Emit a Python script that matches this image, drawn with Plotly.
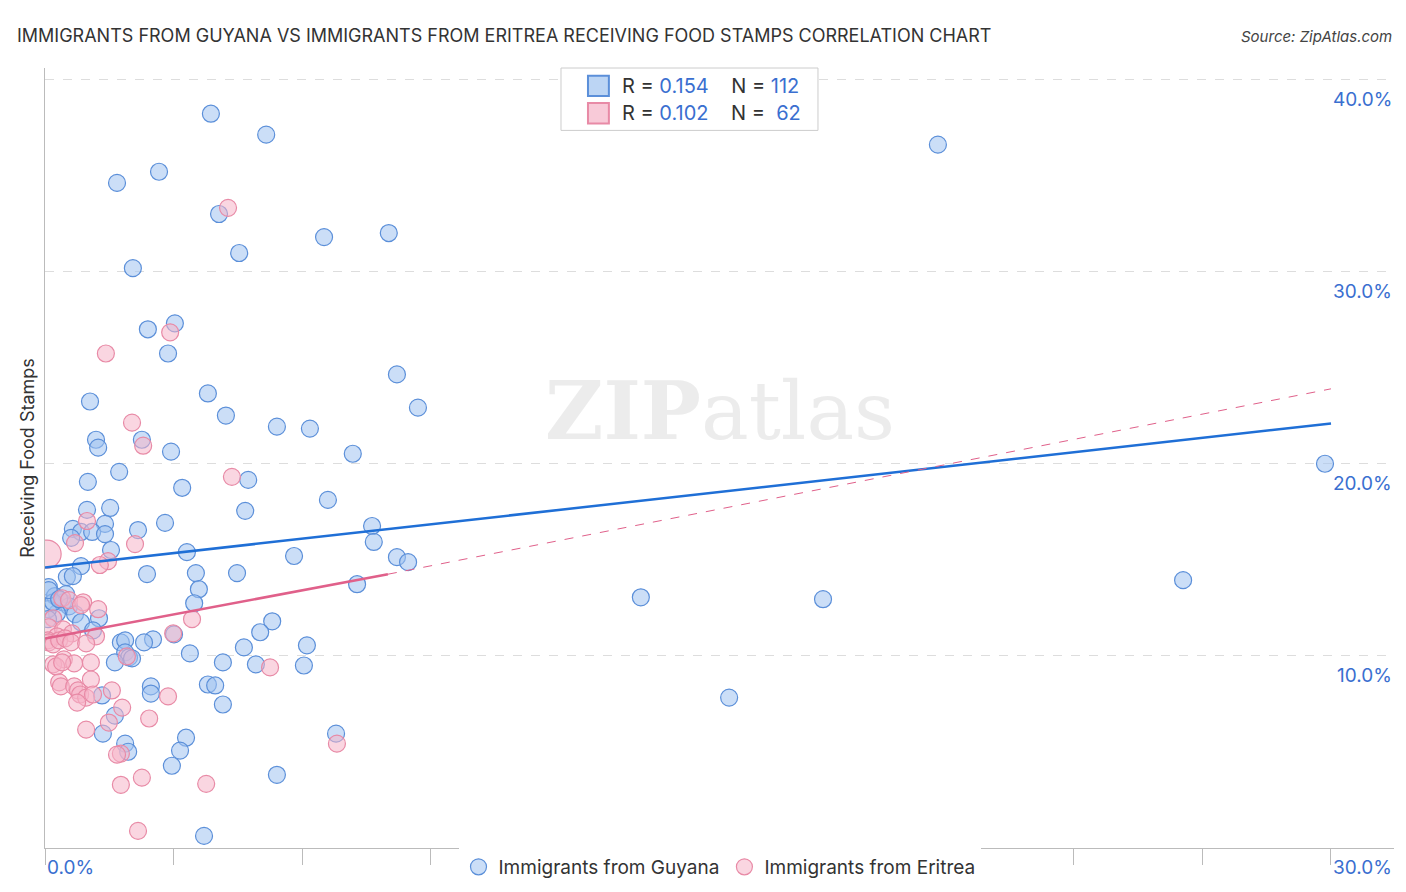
import plotly.graph_objects as go

def cx(p): return round((p-44)/42.87, 2)
def cy(p): return round((845-p)/19.15, 2)

blue_px = [(210,113),(265,134),(116,182),(158,171),(218,213),(238,252),(132,267),(323,236),(388,232),(937,144),(147,328),(174,322),(167,352),(396,373),(89,400),(207,392),(225,414),(417,406),(276,425),(309,427),(95,438),(97,446),(141,438),(170,450),(352,452),(118,470),(87,480),(181,486),(247,478),(327,498),(86,508),(244,509),(109,506),(72,527),(80,530),(104,522),(164,521),(137,528),(371,524),(373,540),(70,536),(91,530),(104,532),(110,548),(186,550),(293,554),(396,555),(407,560),(80,564),(66,575),(72,574),(146,572),(195,571),(236,571),(356,582),(198,587),(48,585),(54,594),(58,597),(62,600),(65,592),(68,604),(74,612),(56,611),(47,607),(80,620),(98,616),(92,628),(193,601),(271,619),(640,595),(822,597),(1182,578),(1324,462),(259,630),(47,617),(52,600),(120,640),(124,638),(152,637),(143,640),(173,632),(243,645),(306,643),(124,650),(128,655),(114,660),(131,656),(189,651),(222,660),(255,662),(303,663),(150,684),(150,691),(207,682),(214,683),(101,693),(222,702),(114,713),(728,695),(335,731),(102,731),(185,735),(124,741),(127,749),(179,748),(171,763),(276,772),(203,833),(48,588),(58,597)]
pink_px = [(227,207),(105,352),(169,331),(131,421),(142,444),(231,475),(86,519),(74,541),(134,542),(107,559),(99,563),(61,596),(68,598),(82,600),(97,607),(80,603),(191,617),(52,616),(48,625),(62,627),(71,631),(95,634),(172,631),(56,634),(47,638),(126,654),(63,657),(73,661),(90,660),(52,662),(55,664),(61,660),(269,665),(58,680),(60,684),(73,684),(90,677),(77,688),(79,692),(85,695),(111,688),(92,692),(76,700),(167,694),(121,705),(148,716),(108,720),(85,727),(120,751),(116,752),(141,775),(120,782),(205,781),(336,741),(137,828),(48,640),(52,642),(58,638),(64,636),(70,640),(85,641)]

guyana_x = [cx(a) for a,b in blue_px]
guyana_y = [cy(b) for a,b in blue_px]
eritrea_x = [cx(a) for a,b in pink_px]
eritrea_y = [cy(b) for a,b in pink_px]
big_x, big_y = [0.05], [15.3]

fig = go.Figure()
fig.add_trace(go.Scatter(x=guyana_x, y=guyana_y, mode="markers", name="Immigrants from Guyana",
    marker=dict(size=17, color="rgba(160,195,240,0.55)", line=dict(color="#5b8fd9", width=1.2))))
fig.add_trace(go.Scatter(x=eritrea_x, y=eritrea_y, mode="markers", name="Immigrants from Eritrea",
    marker=dict(size=17, color="rgba(245,180,200,0.55)", line=dict(color="#e88aa6", width=1.2))))
fig.add_trace(go.Scatter(x=big_x, y=big_y, mode="markers", showlegend=False,
    marker=dict(size=28, color="rgba(245,180,200,0.55)", line=dict(color="#e88aa6", width=1.2))))
fig.add_trace(go.Scatter(x=[0,30], y=[14.6,22.1], mode="lines", showlegend=False, line=dict(color="#1f6fd6", width=2.5)))
fig.add_trace(go.Scatter(x=[8,30], y=[14.25,23.9], mode="lines", showlegend=False, line=dict(color="#e0608a", width=1, dash="dash")))
fig.add_trace(go.Scatter(x=[0,8], y=[10.9,14.25], mode="lines", showlegend=False, line=dict(color="#e0608a", width=2.5)))

ann = [dict(x=1, xref="paper", y=v, yref="y", text=f"{v:.1f}%", showarrow=False, xanchor="right", yanchor="top",
            yshift=-6, font=dict(color="#3a6fd0", size=19)) for v in [10,20,30,40]]
ann += [dict(x=0, xref="paper", y=-0.008, yref="paper", text="0.0%", showarrow=False, xanchor="left", yanchor="top", font=dict(color="#3a6fd0", size=19)),
        dict(x=1, xref="paper", y=-0.008, yref="paper", text="30.0%", showarrow=False, xanchor="right", yanchor="top", font=dict(color="#3a6fd0", size=19)),
        dict(x=0.5, xref="paper", y=0.56, yref="paper", text="<b>ZIP</b>atlas", showarrow=False, font=dict(size=80, color="rgba(200,200,200,0.35)", family="DejaVu Serif")),
        dict(x=-0.022, xref="paper", xanchor="left", y=1.026, yref="paper", yanchor="bottom", text="IMMIGRANTS FROM GUYANA VS IMMIGRANTS FROM ERITREA RECEIVING FOOD STAMPS CORRELATION CHART", showarrow=False, font=dict(size=18, color="#333")),
        dict(x=1, xref="paper", xanchor="right", y=1.026, yref="paper", yanchor="bottom", text="<i>Source: ZipAtlas.com</i>", showarrow=False, font=dict(size=15, color="#444")),
        dict(x=0.426, xref="paper", y=0.977, yref="paper", xanchor="left", yanchor="middle", showarrow=False,
             text="<span style='color:#333'>R = </span><span style='color:#3a6fd0'>0.154</span><span style='color:#333'>    N = </span><span style='color:#3a6fd0'>112</span>", font=dict(size=20)),
        dict(x=0.426, xref="paper", y=0.942, yref="paper", xanchor="left", yanchor="middle", showarrow=False,
             text="<span style='color:#333'>R = </span><span style='color:#3a6fd0'>0.102</span><span style='color:#333'>    N =  </span><span style='color:#3a6fd0'>62</span>", font=dict(size=20))]

shapes = [dict(type="rect", xref="paper", yref="paper", x0=0.3825, x1=0.573, y0=0.92, y1=1.0, fillcolor="white", line=dict(color="#ccc", width=1)),
          dict(type="rect", xref="paper", yref="paper", x0=0.4025, x1=0.418, y0=0.964, y1=0.99, fillcolor="rgba(160,195,240,0.7)", line=dict(color="#5b8fd9")),
          dict(type="rect", xref="paper", yref="paper", x0=0.4025, x1=0.418, y0=0.929, y1=0.955, fillcolor="rgba(245,180,200,0.7)", line=dict(color="#e88aa6"))]

fig.update_layout(width=1406, height=892, plot_bgcolor="white", paper_bgcolor="white",
    margin=dict(l=37, r=20, t=60, b=52), font=dict(family="Inter, Roboto, sans-serif"),
    annotations=ann, shapes=shapes,
    legend=dict(orientation="h", x=0.5, xanchor="center", y=0.0, yanchor="top", font=dict(size=19, color="#333")),
    xaxis=dict(range=[0, 31.47], showgrid=False, showticklabels=False, ticks="outside", tickvals=[3*i for i in range(11)],
               ticklen=16, tickcolor="#bbb", showline=True, linecolor="#bbb", zeroline=False, automargin=False),
    yaxis=dict(range=[0, 40.6], tickvals=[10,20,30,40], showticklabels=False, gridcolor="#ddd", griddash="dash", automargin=False,
               showline=True, linecolor="#bbb", zeroline=False, title=dict(text="Receiving Food Stamps", font=dict(size=18, color="#333"), standoff=4)))
fig.write_html("out.html")
